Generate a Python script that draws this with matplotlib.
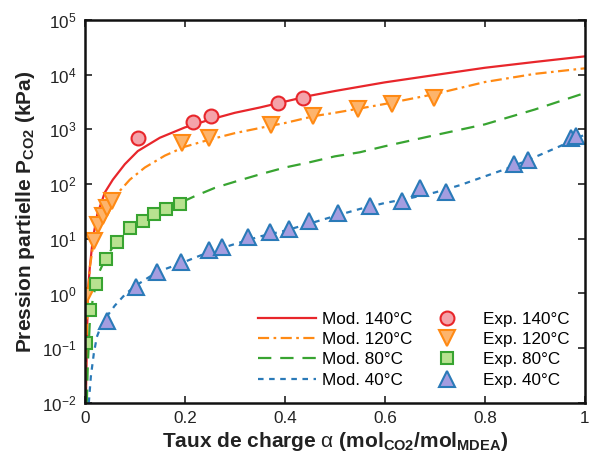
import matplotlib
matplotlib.use("Agg")
import matplotlib.pyplot as plt

plt.rcParams['font.family'] = ['Liberation Sans', 'DejaVu Sans']
plt.rcParams['mathtext.fontset'] = 'custom'
plt.rcParams['mathtext.rm'] = 'Liberation Sans'
plt.rcParams['mathtext.bf'] = 'Liberation Sans:bold'
plt.rcParams['mathtext.it'] = 'Liberation Sans:italic'

# model curves
mod140_x = [0.002, 0.004, 0.006, 0.01, 0.016, 0.025, 0.04, 0.056, 0.08, 0.106, 0.15, 0.2,
            0.25, 0.3, 0.35, 0.4, 0.45, 0.5, 0.6, 0.7, 0.8, 0.9, 1.0]
mod140_y = [0.01, 0.1, 1, 3, 10, 28, 70, 120, 230, 400, 700, 1080,
            1500, 2000, 2500, 3200, 4100, 5000, 7200, 9800, 13300, 17000, 21500]

mod120_x = [0.001, 0.003, 0.006, 0.01, 0.018, 0.026, 0.036, 0.044, 0.054, 0.07, 0.09, 0.12,
            0.16, 0.2, 0.25, 0.3, 0.37, 0.4, 0.46, 0.5, 0.55, 0.6, 0.7, 0.8, 0.9, 1.0]
mod120_y = [0.01, 0.1, 0.9, 3, 9, 17, 26, 36, 47, 75, 120, 200,
            330, 480, 650, 850, 1150, 1300, 1750, 2000, 2400, 2900, 4400, 7300, 10300, 13000]

mod80_x = [0.004, 0.006, 0.01, 0.016, 0.022, 0.03, 0.042, 0.064, 0.09, 0.116, 0.138, 0.162,
           0.19, 0.22, 0.26, 0.3, 0.35, 0.4, 0.45, 0.5, 0.55, 0.6, 0.7, 0.8, 0.9, 1.0]
mod80_y = [0.01, 0.05, 0.3, 0.8, 1.4, 2.6, 4.5, 9, 15, 21, 27, 35,
           45, 60, 85, 110, 150, 200, 250, 320, 380, 490, 780, 1230, 2300, 4600]

mod40_x = [0.008, 0.012, 0.018, 0.024, 0.032, 0.044, 0.06, 0.08, 0.1, 0.125, 0.146, 0.17,
           0.2, 0.25, 0.3, 0.35, 0.4, 0.45, 0.5, 0.55, 0.6, 0.65, 0.7, 0.75, 0.8, 0.85,
           0.9, 0.95, 1.0]
mod40_y = [0.01, 0.03, 0.08, 0.16, 0.25, 0.38, 0.6, 0.95, 1.35, 1.9, 2.5, 3.0,
           3.8, 5.8, 8.0, 11, 14, 19, 26, 35, 45, 55, 70, 95, 138, 200, 310, 490, 800]

# experimental points
exp140_x = [0.106, 0.216, 0.252, 0.386, 0.436]
exp140_y = [680, 1380, 1730, 2960, 3660]

exp120_x = [0.002, 0.018, 0.026, 0.036, 0.044, 0.054, 0.194, 0.248, 0.372, 0.456, 0.546, 0.614, 0.698]
exp120_y = [0.88, 9, 18, 26, 37, 48, 550, 680, 1180, 1730, 2300, 2870, 3800]

exp80_x = [0.002, 0.01, 0.022, 0.042, 0.064, 0.09, 0.116, 0.138, 0.162, 0.19]
exp80_y = [0.127, 0.49, 1.46, 4.2, 8.6, 15.4, 20.7, 28, 35, 44]

exp40_x = [0.044, 0.102, 0.144, 0.192, 0.248, 0.274, 0.326, 0.37, 0.408, 0.448, 0.506,
           0.57, 0.634, 0.67, 0.722, 0.858, 0.886, 0.972, 0.982]
exp40_y = [0.32, 1.34, 2.5, 3.8, 6.1, 7.2, 10.6, 13, 15, 21, 29,
           39, 48, 83, 70, 230, 270, 680, 740]

red, orange, green, blue = '#e8262b', '#ff8a14', '#38a431', '#2a7ab8'

fig = plt.figure(figsize=(5.89, 4.61), dpi=100)
ax = fig.add_axes([0.144, 0.126, 0.849, 0.831])

l1, = ax.plot(mod140_x, mod140_y, color=red, lw=1.6, ls='-')
l2, = ax.plot(mod120_x, mod120_y, color=orange, lw=1.6, ls=(0, (5, 2, 1.2, 2)))
l3, = ax.plot(mod80_x, mod80_y, color=green, lw=1.6, ls=(0, (6, 4)))
l4, = ax.plot(mod40_x, mod40_y, color=blue, lw=1.6, ls=(0, (2.5, 2.5)))

m1, = ax.plot(exp140_x, exp140_y, 'o', ms=10, mfc='#f4a3aa', mec=red, mew=1.5, ls='none')
m2, = ax.plot(exp120_x, exp120_y, 'v', ms=11, mfc='#fdb46c', mec=orange, mew=1.5, ls='none')
m3, = ax.plot(exp80_x, exp80_y, 's', ms=9, mfc='#b8e290', mec=green, mew=1.5, ls='none')
m4, = ax.plot(exp40_x, exp40_y, '^', ms=11, mfc='#a49de0', mec=blue, mew=1.5, ls='none')

ax.set_yscale('log')
ax.set_xlim(0, 1)
ax.set_ylim(1e-2, 1e5)
ax.set_xticks([0, 0.2, 0.4, 0.6, 0.8, 1])
ax.set_xticklabels(['0', '0.2', '0.4', '0.6', '0.8', '1'])
ax.set_yticks([1e-2, 1e-1, 1, 10, 1e2, 1e3, 1e4, 1e5])
ax.minorticks_off()
ax.tick_params(direction='in', top=True, right=True, length=5, width=1.2,
               labelsize=12.3, colors='#222222', pad=6)
for s in ax.spines.values():
    s.set_linewidth(1.8)
    s.set_color('#111111')

ax.set_xlabel(r'Taux de charge $\mathrm{\alpha}$ (mol$_{\mathbf{CO2}}$/mol$_{\mathbf{MDEA}}$)',
              fontsize=15, fontweight='bold', color='#222222', labelpad=3)
ax.set_ylabel(r'Pression partielle P$_{\mathbf{CO2}}$ (kPa)',
              fontsize=15, fontweight='bold', color='#222222', labelpad=4)

handles = [l1, l2, l3, l4, m1, m2, m3, m4]
labels = ['Mod. 140°C', 'Mod. 120°C', 'Mod. 80°C', 'Mod. 40°C',
          'Exp. 140°C', 'Exp. 120°C', 'Exp. 80°C', 'Exp. 40°C']
ax.legend(handles, labels, ncol=2, loc='lower right', frameon=False, fontsize=12.3,
          handlelength=3.4, handletextpad=0.4, columnspacing=0.3, labelspacing=0.3,
          bbox_to_anchor=(1.0, 0.0))

fig.savefig('out.png', dpi=100)
